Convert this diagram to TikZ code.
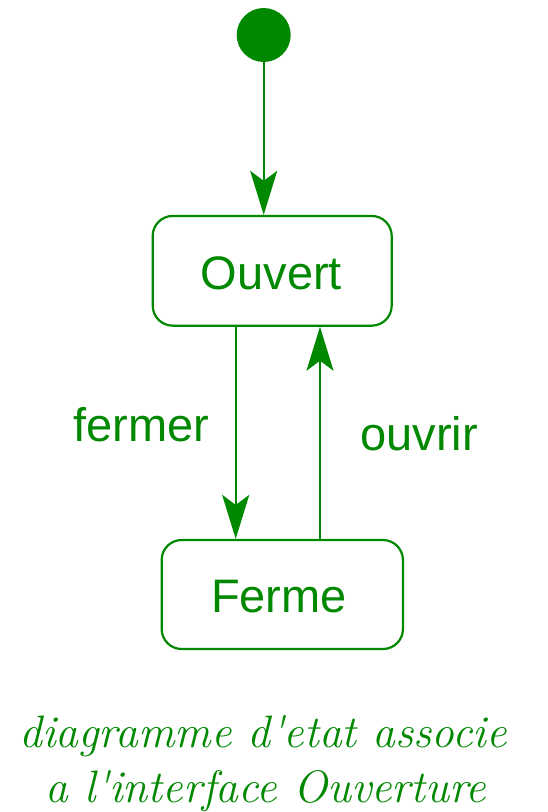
\documentclass[tikz,border=0pt]{standalone}
\usepackage{fontspec}
\usepackage{tikz}
\usetikzlibrary{arrows.meta}
\newfontfamily\sansfont{Liberation Sans}
\definecolor{vert}{RGB}{0,136,0}
\tikzstyle{etat}=[rectangle, draw=vert, line width=2.2pt, rounded corners=20pt, inner sep=0pt]
\tikzstyle{debut}=[circle, fill=vert, inner sep=0pt, minimum size=54pt]
\tikzstyle{fleche}=[line width=2.2pt, draw=vert, -{Stealth[length=44pt, width=27pt, inset=10pt]}]
\tikzstyle{libelle}=[text=vert, anchor=base, inner sep=0pt, font=\sansfont\fontsize{47}{56}\selectfont]
\tikzstyle{legende}=[text=vert, anchor=base, inner sep=0pt, font=\itshape\fontsize{45.5}{52}\selectfont]

\begin{document}
\begin{tikzpicture}[x=1pt, y=-1pt]
                    \useasboundingbox (0,0) rectangle (548,812);
                    \node[debut] (init)   at (263.7, 35) {};
                    \node[etat, minimum width=239pt, minimum height=109.7pt] (ouvert) at (272.2, 270.8) {};
                    \node[etat, minimum width=241.3pt, minimum height=109pt] (ferme)  at (282.3, 594.5) {};
                    \node[libelle] (touvert) at (271.5, 289) {Ouvert};
                    \node[libelle] (tferme)  at (279, 612.7) {Ferme};
                    \node[libelle] (fermer)  at (141.5, 441) {fermer};
                    \node[libelle] (ouvrir)  at (419, 450) {ouvrir};
                    \draw[fleche] (init) -- (init |- ouvert.north);
                    \draw[fleche] ([xshift=-36.5pt]ouvert.south) -- ([xshift=-36.5pt]ouvert.south |- ferme.north);
                    \draw[fleche] ([xshift=47.8pt]ouvert.south |- ferme.north) -- ([xshift=47.8pt]ouvert.south);
                    \node[legende] (legende1) at (263, 747) {diagramme d\textquotesingle etat associe};
                    \node[legende] (legende2) at (266, 802) {a l\textquotesingle interface Ouverture};
                \end{tikzpicture}
\end{document}
